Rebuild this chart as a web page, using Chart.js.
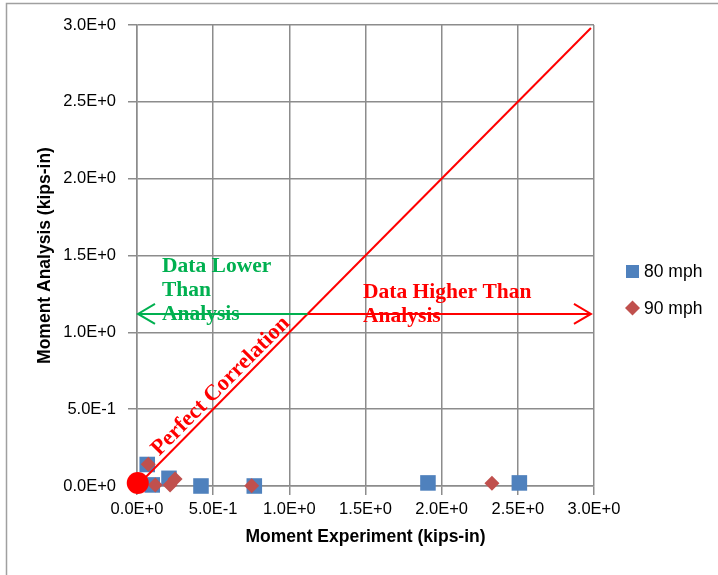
<!DOCTYPE html>
<html>
<head>
<meta charset="utf-8">
<script src="https://cdn.jsdelivr.net/npm/chart.js@4.4.1/dist/chart.umd.min.js"></script>
<style>
  html, body { margin: 0; padding: 0; background: #fff; }
  #wrap { width: 718px; height: 575px; position: relative; }
</style>
</head>
<body>
<div id="wrap"><canvas id="momentChart" width="718" height="575"></canvas></div>
<script>
// experiment vs analysis moments (kips-in)
const series80X = [0.067, 0.10, 0.21, 0.42, 0.77, 1.91, 2.51];
const series80Y = [0.14, 0.007, 0.05, 0.0, 0.0, 0.02, 0.02];
const series90X = [0.074, 0.12, 0.217, 0.25, 0.753, 2.33];
const series90Y = [0.141, 0.007, 0.007, 0.045, 0.002, 0.018];
const perfectX = [0, 2.98];
const perfectY = [0, 2.98];
const originX = [0.005];
const originY = [0.02];
const axisTicks = [0, 0.5, 1.0, 1.5, 2.0, 2.5, 3.0];
const seriesLabels = ['80 mph', '90 mph'];
const splitLevel = 1.12;   // height of the lower/higher arrows
const arrowEnd = 2.98;

const GRID = '#8c8c8c';
const GREEN = '#00b050';
const RED = '#ff0000';
const sans = "'Liberation Sans', Arial, sans-serif";
const serif = "'Liberation Serif', 'Times New Roman', serif";

const toPoints = (xs, ys) => xs.map((x, i) => ({ x: x, y: ys[i] }));
const sci = v => Number(v).toExponential(1).toUpperCase();

function drawArrow(ctx, x0, x1, yy, color) {
  const dir = x1 > x0 ? 1 : -1;
  ctx.strokeStyle = color;
  ctx.lineWidth = 2;
  ctx.beginPath();
  ctx.moveTo(x0, yy);
  ctx.lineTo(x1, yy);
  ctx.moveTo(x1 - dir * 17, yy - 10);
  ctx.lineTo(x1, yy);
  ctx.lineTo(x1 - dir * 17, yy + 10);
  ctx.stroke();
}

const notesPlugin = {
  id: 'notes',
  beforeDraw(chart) {
    const { ctx, width, height } = chart;
    ctx.save();
    ctx.fillStyle = '#fff';
    ctx.fillRect(0, 0, width, height);
    ctx.strokeStyle = '#a0a0a0';
    ctx.lineWidth = 1.5;
    ctx.beginPath();
    ctx.moveTo(6.5, height);
    ctx.lineTo(6.5, 3.5);
    ctx.lineTo(width, 3.5);
    ctx.stroke();
    ctx.restore();
  },
  afterDatasetsDraw(chart) {
    const { ctx, scales: { x, y } } = chart;
    const ay = y.getPixelForValue(splitLevel);
    const x0 = x.getPixelForValue(0);
    const xm = x.getPixelForValue(splitLevel);
    const xe = x.getPixelForValue(arrowEnd);
    ctx.save();

    drawArrow(ctx, xm, x0 + 1, ay, GREEN);
    drawArrow(ctx, xm, xe, ay, RED);

    ctx.font = 'bold 21.5px ' + serif;
    ctx.textAlign = 'left';
    ctx.textBaseline = 'alphabetic';
    ctx.fillStyle = GREEN;
    const gx = x.getPixelForValue(0.164);
    ['Data Lower', 'Than', 'Analysis'].forEach((t, i) => ctx.fillText(t, gx, ay - 42 + i * 24));
    ctx.fillStyle = RED;
    const rx = x.getPixelForValue(1.484);
    ['Data Higher Than', 'Analysis'].forEach((t, i) => ctx.fillText(t, rx, ay - 16 + i * 24));

    // label along the 1:1 line
    const px0 = x.getPixelForValue(0), py0 = y.getPixelForValue(0);
    const px1 = x.getPixelForValue(3), py1 = y.getPixelForValue(3);
    const ang = Math.atan2(py1 - py0, px1 - px0);
    const cx = x.getPixelForValue(0.6) + Math.sin(ang) * 10.7;
    const cy = y.getPixelForValue(0.6) - Math.cos(ang) * 10.7;
    ctx.translate(cx, cy);
    ctx.rotate(ang);
    ctx.textAlign = 'center';
    ctx.textBaseline = 'middle';
    ctx.font = 'bold 22.5px ' + serif;
    ctx.fillText('Perfect Correlation', 0, 0);
    ctx.restore();

    // legend on the right
    const sets = chart.data.datasets;
    ctx.save();
    ctx.font = '17.5px ' + sans;
    ctx.fillStyle = '#000';
    ctx.textBaseline = 'middle';
    const lx = 632.5;
    [271.5, 308].forEach((ly, i) => {
      const ds = sets[i];
      ctx.fillStyle = ds.backgroundColor;
      ctx.beginPath();
      if (ds.pointStyle === 'rect') {
        ctx.rect(lx - 6.5, ly - 6.5, 13, 13);
      } else {
        ctx.moveTo(lx, ly - 7.5);
        ctx.lineTo(lx + 7.5, ly);
        ctx.lineTo(lx, ly + 7.5);
        ctx.lineTo(lx - 7.5, ly);
        ctx.closePath();
      }
      ctx.fill();
      ctx.fillStyle = '#000';
      ctx.fillText(ds.label, 644, ly + 1);
    });
    ctx.restore();
  }
};

const axisBase = (titleText, fit) => ({
  type: 'linear',
  min: 0,
  max: 3,
  afterBuildTicks: a => { a.ticks = axisTicks.map(v => ({ value: v })); },
  afterFit: fit,
  grid: { color: GRID, lineWidth: 1.5, tickLength: 9 },
  border: { color: GRID, width: 1.5 },
  ticks: {
    font: { family: sans, size: 16.5 },
    color: '#000',
    maxRotation: 0,
    callback: v => sci(v)
  },
  title: {
    display: true,
    text: titleText,
    color: '#000',
    font: { family: sans, size: 17.5, weight: 'bold' }
  }
});

const xAxis = axisBase('Moment Experiment (kips-in)', a => { a.height = 89; });
xAxis.ticks.padding = 5;
xAxis.title.padding = { top: 0, bottom: 27 };

const yAxis = axisBase('Moment Analysis (kips-in)', a => { a.width = 137; });
yAxis.ticks.padding = 12;
yAxis.title.padding = { top: 35, bottom: 0 };

new Chart(document.getElementById('momentChart'), {
  type: 'scatter',
  data: {
    datasets: [
      {
        label: seriesLabels[0],
        data: toPoints(series80X, series80Y),
        pointStyle: 'rect',
        pointRadius: 11,
        backgroundColor: '#4f81bd',
        borderColor: '#4f81bd',
        borderWidth: 0,
        clip: false,
        order: 3
      },
      {
        label: seriesLabels[1],
        data: toPoints(series90X, series90Y),
        pointStyle: 'rectRot',
        pointRadius: 7.5,
        backgroundColor: '#c0504d',
        borderColor: '#c0504d',
        borderWidth: 0,
        clip: false,
        order: 2
      },
      {
        label: 'Perfect Correlation',
        type: 'line',
        data: toPoints(perfectX, perfectY),
        borderColor: RED,
        borderWidth: 2,
        pointRadius: 0,
        fill: false,
        order: 1
      },
      {
        label: 'origin',
        data: toPoints(originX, originY),
        pointStyle: 'circle',
        pointRadius: 11,
        backgroundColor: RED,
        borderWidth: 0,
        clip: false,
        order: 0
      }
    ]
  },
  options: {
    responsive: false,
    animation: false,
    devicePixelRatio: 1,
    layout: { padding: { top: 25, right: 124, bottom: 0, left: 0 } },
    scales: { x: xAxis, y: yAxis },
    plugins: {
      legend: { display: false },
      tooltip: { enabled: false }
    }
  },
  plugins: [notesPlugin]
});
</script>
</body>
</html>
